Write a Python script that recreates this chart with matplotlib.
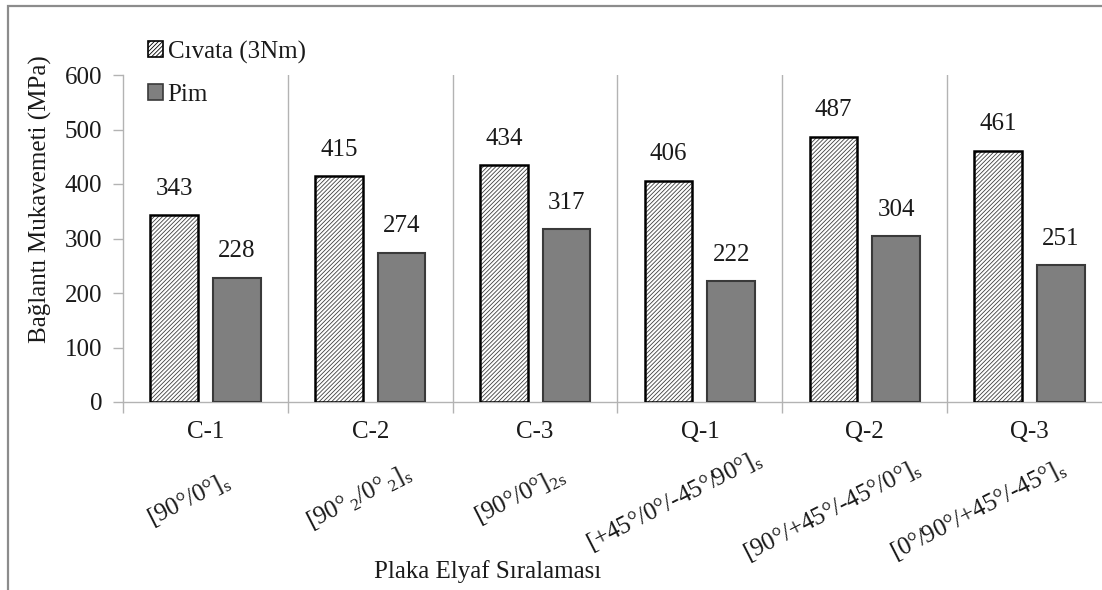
import matplotlib
matplotlib.use("Agg")
import matplotlib.pyplot as plt
from matplotlib.patches import Rectangle, Patch
import numpy as np

# Data
categories = ["C-1", "C-2", "C-3", "Q-1", "Q-2", "Q-3"]
layups = [
    r"[90°/0°]$_\mathrm{s}$",
    r"[90°$_\mathrm{\,2}$/0°$_\mathrm{\,2}$]$_\mathrm{s}$",
    r"[90°/0°]$_\mathrm{2s}$",
    r"[+45°/0°/-45°/90°]$_\mathrm{s}$",
    r"[90°/+45°/-45°/0°]$_\mathrm{s}$",
    r"[0°/90°/+45°/-45°]$_\mathrm{s}$",
]
civata = [343, 415, 434, 406, 487, 461]
pim = [228, 274, 317, 222, 304, 251]
series_names = ["Cıvata (3Nm)", "Pim"]
yticks = [0, 100, 200, 300, 400, 500, 600]

# placement of the rotated lay-up labels (offset points from each category base)
layup_dx = [-12, -8, -11, -18, -23, -37]
layup_dy = [-71, -69, -68, -72, -79, -78]

plt.rcParams["font.family"] = ["Liberation Serif", "DejaVu Serif"]
plt.rcParams["mathtext.fontset"] = "custom"
plt.rcParams["mathtext.rm"] = "Liberation Serif"
plt.rcParams["hatch.linewidth"] = 0.6

W, H = 1102, 590
fig = plt.figure(figsize=(W / 100, H / 100), dpi=100)

# outer chart frame (extends past the right/bottom edges)
fig.patches.append(Rectangle((8 / W, -0.2), 1.2, 1 - 6 / H + 0.2,
                             transform=fig.transFigure, fill=False,
                             edgecolor="#8c8c8c", linewidth=1.6))

ax = fig.add_axes([123 / W, 1 - 402 / H, 989 / W, 327 / H])
fs = 18
txt_c = "#1a1a1a"
grid_c = "#b3b3b3"

x = np.arange(len(categories))
bw = 0.29
off = 0.19

# hatched bars: hatch drawn first, then a black outline
ax.bar(x - off, civata, bw, color="white", edgecolor="#404040", hatch="////////",
       linewidth=0, zorder=3)
ax.bar(x - off, civata, bw, fill=False, edgecolor="black", linewidth=1.8, zorder=4)
ax.bar(x + off, pim, bw, color="#7f7f7f", edgecolor="#3a3a3a", linewidth=1.5, zorder=3)

for xi, v in zip(x - off, civata):
    ax.annotate(str(v), (xi, v), xytext=(0, 11), textcoords="offset points",
                ha="center", va="bottom", fontsize=fs, color=txt_c)
for xi, v in zip(x + off, pim):
    ax.annotate(str(v), (xi, v), xytext=(0, 11), textcoords="offset points",
                ha="center", va="bottom", fontsize=fs, color=txt_c)

# category separators
for b in np.arange(0.5, len(categories) - 0.5, 1):
    ax.axvline(b, color=grid_c, linewidth=1.0, zorder=1)

ax.set_xlim(-0.5, len(categories) - 0.5)
ax.set_ylim(0, 600)
ax.set_yticks(yticks)
ax.set_yticklabels([str(t) for t in yticks], fontsize=fs, color=txt_c)
ax.set_xticks(x)
ax.set_xticklabels(categories, fontsize=fs, color=txt_c)
ax.tick_params(axis="x", length=0, pad=14)
ax.set_xticks(np.arange(-0.5, len(categories), 1), minor=True)
ax.tick_params(axis="x", which="minor", length=8, color=grid_c, width=1.0)
ax.tick_params(axis="y", length=7, color=grid_c, width=1.0, pad=8)

for s in ["top", "right"]:
    ax.spines[s].set_visible(False)
for s in ["left", "bottom"]:
    ax.spines[s].set_color(grid_c)
    ax.spines[s].set_linewidth(1.0)

# rotated lay-up labels
for xi, lab, dx, dy in zip(x, layups, layup_dx, layup_dy):
    ax.annotate(lab, (xi, 0), xycoords="data", xytext=(dx, dy),
                textcoords="offset points", ha="center", va="center",
                rotation=27, rotation_mode="anchor", fontsize=fs,
                color=txt_c, annotation_clip=False)

fig.text(488 / W, 1 - 572 / H, "Plaka Elyaf Sıralaması", ha="center", va="center",
         fontsize=fs, color=txt_c)
fig.text(40 / W, 1 - 199 / H, "Bağlantı Mukavemeti (MPa)", ha="center", va="center",
         rotation=90, fontsize=fs, color=txt_c)

handles = [Patch(facecolor="white", edgecolor="black", hatch="////////", linewidth=1.2),
           Patch(facecolor="#7f7f7f", edgecolor="#3a3a3a", linewidth=1.2)]
fig.legend(handles, series_names, loc="upper left",
           bbox_to_anchor=(130 / W, 1 - 23 / H), frameon=False, fontsize=fs,
           handlelength=0.6, handleheight=0.6, handletextpad=0.2,
           labelspacing=0.8, borderpad=0.2, labelcolor=txt_c)

fig.savefig("out.png", dpi=100)
